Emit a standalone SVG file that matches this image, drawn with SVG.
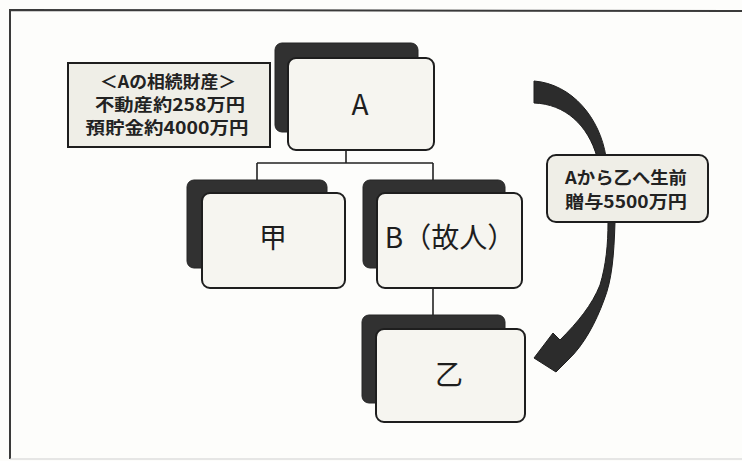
<svg xmlns="http://www.w3.org/2000/svg" width="742" height="461" viewBox="0 0 742 461">
<defs>
<style>
.bg{fill:#fdfdfb}
.frame{fill:none;stroke:#3a3a3a;stroke-width:2}
.shadow{fill:#313131;stroke:#262626;stroke-width:1}
.card{fill:#f6f5f0;stroke:#1e1e1e;stroke-width:2}
.lbl{font-family:"Noto Sans CJK JP","Noto Sans",sans-serif;font-size:28px;fill:#1e1e1e;text-anchor:middle}
.note{font-family:"Noto Sans CJK JP","Noto Sans",sans-serif;font-size:17px;font-weight:bold;fill:#222;text-anchor:middle}
.conn{fill:none;stroke:#222;stroke-width:1.6}
.notebox{fill:#efeee7;stroke:#1e1e1e;stroke-width:2}
.arrow{fill:#2c2c2c;stroke:#1e1e1e;stroke-width:1}
</style>
</defs>
<rect class="bg" x="0" y="0" width="742" height="461"/>
<path class="frame" d="M10,459 L10,10 L742,11"/>
<line x1="10" y1="459" x2="742" y2="459" stroke="#cfcfcf" stroke-width="1"/>

<g id="connectors">
<path class="conn" d="M346,150 V163 M257,163 H433 M257,163 V180 M433,163 V180"/>
<path class="conn" d="M433,288 V315"/>
<path id="gift-arrow" class="arrow" d="M534,81 C572,84 600,118 606,157 C611,180 616,200 615,222 C614,255 612,280 604,300 C596,322 584,345 568,360 L556,372 L534,358 L553,333 L560,340 C578,322 592,305 600,285 C606,265 608,245 608,222 C607,195 603,175 597,157 C588,125 565,104 534,103 Z"/>
</g>

<g id="node-info">
<rect class="notebox" x="68" y="63" width="202" height="84"/>
<text class="note" x="168" y="88" textLength="136" lengthAdjust="spacingAndGlyphs">＜Aの相続財産＞</text>
<text class="note" x="170" y="111" textLength="150" lengthAdjust="spacingAndGlyphs">不動産約258万円</text>
<text class="note" x="167" y="134" textLength="163" lengthAdjust="spacingAndGlyphs">預貯金約4000万円</text>
</g>

<g id="node-A">
<rect class="shadow" x="275" y="43" width="143" height="89" rx="7"/>
<rect class="card" x="288" y="58" width="146" height="92" rx="8"/>
<text class="lbl" x="360" y="115">A</text>
</g>

<g id="node-kou">
<rect class="shadow" x="187" y="180" width="140" height="88" rx="7"/>
<rect class="card" x="202" y="193" width="143" height="95" rx="8"/>
<text class="lbl" x="273" y="248">甲</text>
</g>

<g id="node-B">
<rect class="shadow" x="363" y="180" width="142" height="88" rx="7"/>
<rect class="card" x="377" y="193" width="145" height="95" rx="8"/>
<text class="lbl" x="450" y="248">B（故人）</text>
</g>

<g id="node-otsu">
<rect class="shadow" x="362" y="315" width="143" height="88" rx="7"/>
<rect class="card" x="376" y="329" width="149" height="93" rx="8"/>
<text class="lbl" x="449" y="385">乙</text>
</g>

<g id="node-gift">
<rect class="notebox" x="547" y="155" width="161" height="67" rx="9"/>
<text class="note" x="626" y="184" textLength="122" lengthAdjust="spacingAndGlyphs">Aから乙へ生前</text>
<text class="note" x="626" y="208" textLength="122" lengthAdjust="spacingAndGlyphs">贈与5500万円</text>
</g>
</svg>
